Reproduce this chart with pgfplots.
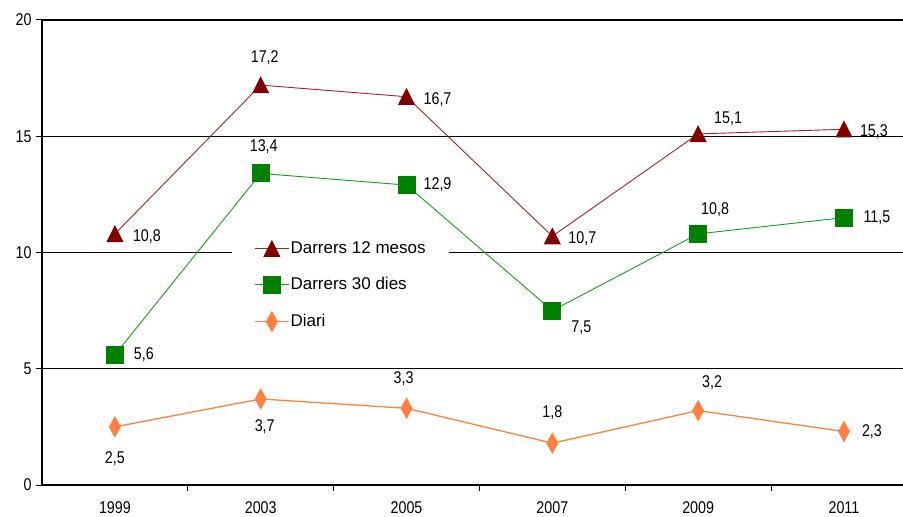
\documentclass[border=0pt]{standalone}
\usepackage{pgfplots}
\pgfplotsset{compat=1.18}
\usepackage{pgfplotstable}
\usepackage{fontspec}
\setmainfont{Liberation Sans}
\newfontfamily\condensed{Liberation Sans}[FakeStretch=0.84]

\definecolor{mesosmark}{RGB}{128,0,0}
\definecolor{mesosline}{RGB}{165,35,35}
\definecolor{diesmark}{RGB}{0,128,0}
\definecolor{diesline}{RGB}{20,160,20}
\definecolor{diari}{RGB}{255,128,64}

% x = survey index (1999, 2003, ..., 2011); dx, dy = label offsets in pt
\pgfplotstableread{
x y dx dy
0 10.8 32 0
1 17.2 4 30
2 16.7 31 0
3 10.7 30 0
4 15.1 30 18
5 15.3 30 0
}\mesos
\pgfplotstableread{
x y dx dy
0 5.6 29 0
1 13.4 3 27
2 12.9 31 0
3 7.5 29 -17
4 10.8 17 24
5 11.5 33 0
}\dies
\pgfplotstableread{
x y dx dy
0 2.5 0 -32
1 3.7 4 -28
2 3.3 -3 30
3 1.8 0 30
4 3.2 14 28
5 2.3 28 0
}\diari

\begin{document}
\begin{tikzpicture}
\useasboundingbox (-42pt,-32pt) rectangle (861pt,485pt);
\begin{axis}[
  at={(0,0)}, anchor=south west,
  scale only axis, width=861pt, height=465pt,
  xmin=-0.5, xmax=5.405, ymin=0, ymax=20,
  axis x line=bottom, axis y line=left,
  axis line style={-, line width=1.3pt, black},
  ytick={0,5,...,20},
  ymajorgrids, grid style={black, line width=1.1pt},
  xtick={0,...,5},
  xticklabels={1999,2003,2005,2007,2009,2011},
  minor xtick={0.5,1.5,2.5,3.5,4.5},
  tick align=outside,
  major tick length=6pt, minor tick length=6pt,
  every major x tick/.style={draw=none},
  every tick/.style={black, line width=1pt},
  minor tick style={black, line width=1pt},
  tick label style={font=\condensed\fontsize{17}{19}\selectfont},
  xticklabel style={yshift=-7pt},
  yticklabel style={xshift=-1pt},
  /pgf/number format/assume math mode=true,
  clip=false,
  nodes near coords={\pgfmathprintnumber[fixed,fixed zerofill,precision=1,use comma,assume math mode=true]{\pgfplotspointmeta}},
  visualization depends on={\thisrow{dx}\as\dx},
  visualization depends on={\thisrow{dy}\as\dy},
  nodes near coords style={anchor=center, xshift=\dx pt, yshift=\dy pt,
    font=\condensed\fontsize{17}{19}\selectfont, text=black},
  legend image code/.code={
    \draw[mark repeat=2, mark phase=2] plot coordinates {(0pt,0pt) (17pt,0pt) (34pt,0pt)};},
  legend style={at={(0.2207,0.544)}, anchor=north west, draw=none, fill=white,
    inner xsep=22pt, inner ysep=8pt, row sep=19pt,
    font=\fontsize{17}{19}\selectfont,
    nodes={inner sep=1pt, text height=12pt, text depth=3pt}},
  legend cell align=left,
]
\addplot[mesosline, line width=0.9pt, mark=triangle*, mark size=9pt,
  mark options={mesosmark, fill=mesosmark, yshift=-2.5pt, yscale=1.15}]
  table[x=x, y=y, meta=y] {\mesos};
\addlegendentry{Darrers 12 mesos}
\addplot[diesline, line width=0.9pt, mark=square*, mark size=8.5pt,
  mark options={diesmark, fill=diesmark}]
  table[x=x, y=y, meta=y] {\dies};
\addlegendentry{Darrers 30 dies}
\addplot[diari, line width=1.3pt, mark=diamond*, mark size=7pt,
  mark options={diari, fill=diari, yscale=1.35}]
  table[x=x, y=y, meta=y] {\diari};
\addlegendentry{Diari}
\end{axis}
\end{tikzpicture}
\end{document}
